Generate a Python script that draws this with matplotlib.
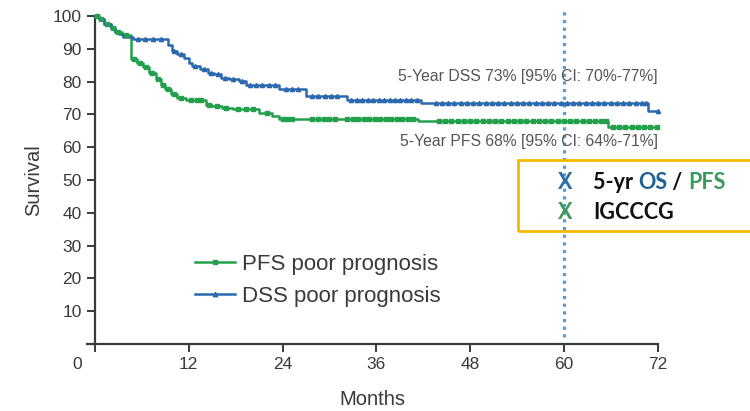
import matplotlib
matplotlib.use("Agg")
import matplotlib.pyplot as plt
import numpy as np
from matplotlib.lines import Line2D
from matplotlib.patches import Rectangle
from matplotlib.transforms import ScaledTranslation

# --- data ---
pfs_times = [0, 0.5, 1.2, 2.0, 2.6, 3.5, 4.6, 5.4, 6.1, 6.9, 7.8, 8.4, 9.0, 9.7,
             10.5, 11.6, 14.2, 15.0, 16.3, 17.6, 21.0, 22.7, 23.5, 41.4, 65.7]
pfs_surv = [100, 99, 97.5, 96.3, 95, 94.2, 86.8, 85.8, 84.3, 82.7, 80.7, 79.1, 77.6, 76.1,
            75.1, 74.3, 73.0, 72.5, 72.0, 71.5, 70.5, 69.4, 68.7, 68.0, 66.3]
pfs_censor = [0.3, 0.8, 1.5, 2.3, 3.0, 4.0, 5.0, 5.8, 6.5, 7.3, 8.1, 8.7, 9.3, 10.1, 11.0,
              12.3, 13.0, 13.6, 14.6, 15.6, 16.8, 18.3, 19.3, 20.2, 22.0, 24.0, 24.6, 25.2,
              27.8, 28.5, 29.3, 30.0, 30.7, 32.3, 33.0, 33.7, 34.4, 35.1, 35.8, 36.5, 37.2,
              37.9, 38.6, 39.3, 40.0, 40.7, 44.0, 44.8, 45.6, 46.4, 47.2, 48.0, 48.8, 49.6,
              50.4, 51.2, 52.0, 52.8, 53.6, 54.4, 55.2, 56.0, 56.8, 57.6, 58.4, 59.2, 60.0,
              60.8, 61.6, 62.4, 63.2, 64.0, 64.8, 65.4, 66.3, 67.1, 67.9, 68.7, 69.5, 70.3,
              71.1, 71.9]

dss_times = [0, 0.5, 1.2, 2.0, 2.6, 3.1, 3.6, 4.8, 9.3, 9.8, 10.5, 11.4, 12.0, 12.4, 13.5,
             14.4, 15.2, 16.1, 17.1, 18.4, 19.3, 23.6, 27.0, 32.2, 41.7, 70.8]
dss_surv = [100, 99, 97.5, 96.3, 95, 94.5, 93.5, 92.9, 91.2, 89.4, 88.3, 87.3, 85.8, 84.8, 83.7,
            82.7, 82.2, 81.2, 80.7, 80.2, 79.1, 77.6, 75.6, 74.4, 73.5, 71.0]
dss_censor = [5.5, 6.4, 7.4, 8.5, 10.1, 11.0, 12.8, 14.0, 14.8, 15.7, 16.6, 17.6, 18.8, 19.8,
              20.6, 21.4, 22.3, 23.0, 24.5, 25.2, 26.0, 27.8, 28.6, 29.4, 30.2, 31.0, 32.8,
              33.5, 34.2, 34.9, 35.6, 36.3, 37.0, 37.7, 38.4, 39.1, 39.8, 40.5, 41.2, 43.6,
              44.4, 45.2, 46.0, 46.8, 47.6, 48.4, 49.2, 50.0, 50.8, 51.6, 52.4, 53.2, 54.0,
              54.8, 55.6, 56.4, 57.2, 58.0, 58.8, 59.6, 60.4, 61.2, 62.0, 62.8, 63.6, 64.4,
              65.2, 66.0, 66.8, 67.6, 68.4, 69.2, 70.0, 70.5, 72.0]

month_ticks = [0, 12, 24, 36, 48, 60, 72]
surv_ticks = [10, 20, 30, 40, 50, 60, 70, 80, 90, 100]

dss_note = "5-Year DSS 73% [95% CI: 70%-77%]"
pfs_note = "5-Year PFS 68% [95% CI: 64%-71%]"

GREEN = "#23a04c"
BLUE = "#2a68b0"
AXIS = "#3a3a3a"

plt.rcParams["font.family"] = ["Liberation Sans", "DejaVu Sans"]

fig = plt.figure(figsize=(7.5, 4.11), dpi=100)
ax = fig.add_axes([87.2 / 750, 1 - 344 / 411, (657.5 - 87.2) / 750, 328 / 411])
ax.set_xlim(-1, 72)
ax.set_ylim(0, 100)


def km_curve(times, surv, censor, color, marker, ms):
    t = np.array(times + [72])
    s = np.array(surv + [surv[-1]])
    ax.step(t, s, where="post", color=color, lw=1.8, zorder=3, clip_on=False)
    idx = np.searchsorted(times, censor, side="right") - 1
    ax.plot(censor, np.array(surv)[idx], ls="none", marker=marker, ms=ms,
            color=color, zorder=4, clip_on=False)


km_curve(pfs_times, pfs_surv, pfs_censor, GREEN, "s", 3.1)
km_curve(dss_times, dss_surv, dss_censor, BLUE, "^", 3.0)

# 60-month reference line
ax.vlines(60, 2, 102.5, colors="#5b9bd5", linestyles=(0, (1, 1.4)), lw=2.3,
          zorder=2, clip_on=False)

ax.text(72, 81.5, dss_note, ha="right", va="center", fontsize=11.3, color="#555555")
ax.text(72, 61.7, pfs_note, ha="right", va="center", fontsize=11.3, color="#555555")

# axes styling
for side in ["top", "right"]:
    ax.spines[side].set_visible(False)
ax.spines["left"].set_position(("data", 0))
ax.spines["left"].set_bounds(0, 100)
for side in ["left", "bottom"]:
    ax.spines[side].set_linewidth(1.6)
    ax.spines[side].set_color(AXIS)

ax.set_xticks(month_ticks)
ax.set_xticklabels([str(m) for m in month_ticks])
ax.set_yticks(surv_ticks)
ax.set_yticklabels([str(v) for v in surv_ticks])
ax.tick_params(direction="out", length=5.5, width=1.4, colors=AXIS,
               labelsize=12.5, pad=4)
zero_label = ax.get_xticklabels()[0]
zero_label.set_transform(zero_label.get_transform()
                         + ScaledTranslation(-0.18, 0, fig.dpi_scale_trans))

ax.set_xlabel("Months", fontsize=14.5, color=AXIS, labelpad=13)
ax.set_ylabel("Survival", fontsize=14.5, color=AXIS, labelpad=7)

handles = [
    Line2D([], [], color=GREEN, lw=1.8, marker="s", ms=3.4),
    Line2D([], [], color=BLUE, lw=1.8, marker="^", ms=3.2),
]
ax.legend(handles, ["PFS poor prognosis", "DSS poor prognosis"],
          loc="upper left", bbox_to_anchor=(195 / 750, 1 - 254 / 411),
          bbox_transform=fig.transFigure, frameon=False, fontsize=16,
          handlelength=1.8, handletextpad=0.3, labelspacing=0.5,
          borderpad=0, borderaxespad=0, labelcolor=AXIS)

# highlighted box on the right
fig.patches.append(Rectangle((518 / 750, 1 - 231 / 411), 260 / 750, 71 / 411,
                             transform=fig.transFigure, fill=False,
                             edgecolor="#f5b800", lw=2, zorder=5))

box_font = dict(family=["Lato", "DejaVu Sans"], fontweight="bold", fontsize=15.5)
fig.text(565 / 750, 1 - 189 / 411, "X", color="#2a6d9e", ha="center", va="baseline",
         zorder=6, **box_font)
fig.text(565 / 750, 1 - 219 / 411, "X", color="#3a9a5c", ha="center", va="baseline",
         zorder=6, **box_font)

renderer = fig.canvas.get_renderer()
x = 593 / 750
for part, color in [("5-yr ", "#111111"), ("OS", "#1f6392"), (" / ", "#111111"),
                    ("PFS", "#3a9a5c")]:
    t = fig.text(x, 1 - 189 / 411, part, color=color, ha="left", va="baseline", **box_font)
    x = t.get_window_extent(renderer).x1 / fig.bbox.width
fig.text(593 / 750, 1 - 219 / 411, "IGCCCG", color="#111111", ha="left", va="baseline",
         **box_font)

fig.savefig("out.png", dpi=100)
